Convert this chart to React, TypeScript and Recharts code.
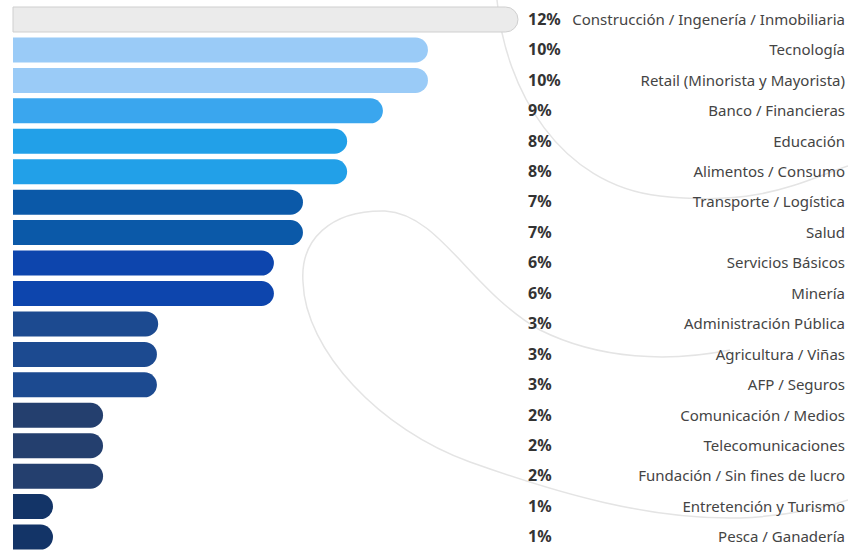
import { BarChart, Bar, XAxis, YAxis, Cell } from 'recharts';

const sectors = [
  'Construcción / Ingenería / Inmobiliaria',
  'Tecnología',
  'Retail (Minorista y Mayorista)',
  'Banco / Financieras',
  'Educación',
  'Alimentos / Consumo',
  'Transporte / Logística',
  'Salud',
  'Servicios Básicos',
  'Minería',
  'Administración Pública',
  'Agricultura / Viñas',
  'AFP / Seguros',
  'Comunicación / Medios',
  'Telecomunicaciones',
  'Fundación / Sin fines de lucro',
  'Entretención y Turismo',
  'Pesca / Ganadería',
];

const shares = [12, 9.86, 9.86, 8.79, 7.94, 7.94, 6.89, 6.89, 6.2, 6.2, 3.45, 3.42, 3.42, 2.14, 2.14, 2.14, 0.95, 0.95];

const shareLabels = ['12%', '10%', '10%', '9%', '8%', '8%', '7%', '7%', '6%', '6%', '3%', '3%', '3%', '2%', '2%', '2%', '1%', '1%'];

const barColors = [
  '#ebebeb', '#9acbf7', '#9acbf7', '#3aa6ee', '#22a0e8', '#22a0e8',
  '#0b59a8', '#0b59a8', '#0d45ad', '#0d45ad', '#1c4a90', '#1c4a90',
  '#1c4a90', '#243f6e', '#243f6e', '#243f6e', '#133467', '#133467',
];

const data = sectors.map((name, i) => ({ name, value: shares[i], label: shareLabels[i] }));

const PCT_X = 528;
const NAME_X = 845;

function SectorTick(props: any) {
  const { y, payload } = props;
  const row = data.find((d) => d.name === payload.value);
  return (
    <g>
      <text x={PCT_X} y={y} dy={5.5} fontSize={16} fontWeight={700} fill="#333" fontFamily="'Noto Sans', sans-serif">
        {row ? row.label : ''}
      </text>
      <text x={NAME_X} y={y} dy={5.5} fontSize={15} textAnchor="end" fill="#444" fontFamily="'Noto Sans', sans-serif">
        {payload.value}
      </text>
    </g>
  );
}

export default function App() {
  return (
    <div style={{ position: 'absolute', left: 0, top: 0, width: 848, height: 550, overflow: 'hidden', background: '#fff' }}>
      <svg width={848} height={550} style={{ position: 'absolute', left: 0, top: 0 }}>
        <g fill="none" stroke="#e4e4e4" strokeWidth={1.5}>
          <path d="M 497 0 C 505 90, 560 185, 660 196 S 800 182, 848 166" />
          <path d="M 303 282 C 300 240, 330 210, 385 211 C 440 214, 470 290, 540 330 C 600 360, 670 362, 730 350" />
          <path d="M 303 282 C 305 350, 380 430, 470 462 C 560 494, 650 520, 740 518 C 790 516, 830 506, 848 500" />
        </g>
      </svg>
      <div style={{ position: 'absolute', left: 0, top: 0 }}>
        <BarChart
          width={848}
          height={556}
          data={data}
          layout="vertical"
          margin={{ top: 4, right: 0, bottom: 4, left: 13 }}
        >
          <XAxis type="number" domain={[0, 12]} hide />
          <YAxis
            type="category"
            dataKey="name"
            orientation="right"
            width={330}
            axisLine={false}
            tickLine={false}
            interval={0}
            tick={<SectorTick />}
          />
          <Bar dataKey="value" barSize={25} radius={[0, 12.5, 12.5, 0]} isAnimationActive={false}>
            {data.map((d, i) => (
              <Cell key={d.name} fill={barColors[i]} stroke={i === 0 ? '#cfcfcf' : 'none'} />
            ))}
          </Bar>
        </BarChart>
      </div>
    </div>
  );
}
